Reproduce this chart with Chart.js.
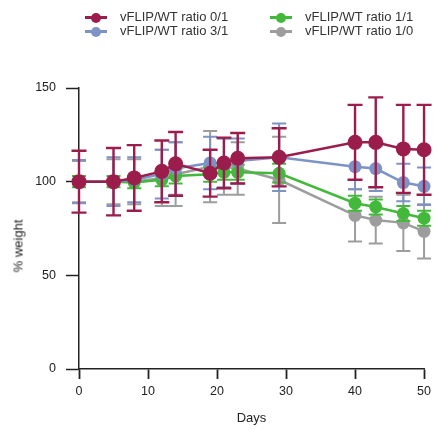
<!DOCTYPE html>
<html>
<head>
<meta charset="utf-8">
<script src="https://cdn.jsdelivr.net/npm/chart.js"></script>
<style>
    html, body { margin: 0; padding: 0; background: #fff; }
    #wrap { position: relative; width: 436px; height: 430px; }
    #weightChart { position: absolute; left: 0; top: 0; }
    .legend-item {
        position: absolute;
        font-family: "Liberation Sans", Arial, sans-serif;
        font-size: 13px;
        color: #333;
        line-height: 14px;
        white-space: nowrap;
    }
    .legend-item .mark {
        display: inline-block;
        position: relative;
        width: 22px;
        height: 14px;
        vertical-align: top;
        margin-right: 13px;
    }
    .legend-item .mark .bar {
        position: absolute; left: 0; top: 6px; width: 22px; height: 2.5px;
    }
    .legend-item .mark .dot {
        position: absolute; left: 6px; top: 2.5px; width: 10px; height: 10px; border-radius: 50%;
    }
    #yTitle {
        position: absolute;
        left: 18px;
        top: 246px;
        transform: translate(-50%, -50%) rotate(-90deg);
        font-family: "Liberation Sans", Arial, sans-serif;
        font-size: 13px;
        color: #222;
        white-space: nowrap;
    }
</style>
</head>
<body>
<div id="wrap">
    <canvas id="weightChart" width="436" height="430"></canvas>
    <div id="yTitle">% weight</div>
</div>
<script>
// Data
const days = [0, 5, 8, 12, 14, 19, 21, 23, 29, 40, 43, 47, 50];

const ratio01 = [100, 100, 102, 105.5, 109.5, 104.5, 110, 112.5, 113, 121, 121, 117.5, 117];
const ratio01Err = [16.5, 18, 17.5, 16.5, 17, 12.5, 13.5, 13.5, 15.5, 20, 24, 23.5, 24];

const ratio31 = [100, 100, 101, 104, 107, 110, 110, 111, 113, 108, 107, 99.5, 97.5];
const ratio31Err = [11.5, 13, 12, 13, 14, 14, 13, 12, 18, 12, 12, 10, 10];

const ratio11 = [100, 100, 99.5, 101, 103, 104, 105, 105, 104.5, 88.5, 86.5, 83, 80.5];
const ratio11Err = [3, 3, 3, 3.5, 4, 4, 4, 4, 5, 4, 4, 4, 4];

const ratio10 = [100, 100, 100, 102, 104, 108, 108, 107, 101, 82, 79.5, 78, 73.5];
const ratio10Err = [11, 12, 12, 15, 17, 19, 15, 14, 23, 14, 12.5, 15, 14.5];

const seriesLabels = ['vFLIP/WT ratio 0/1', 'vFLIP/WT ratio 3/1', 'vFLIP/WT ratio 1/1', 'vFLIP/WT ratio 1/0'];
const seriesColors = ['#9b1d4c', '#7d93c6', '#43b93c', '#9d9d9d'];
const seriesValues = [ratio01, ratio31, ratio11, ratio10];
const seriesErrors = [ratio01Err, ratio31Err, ratio11Err, ratio10Err];
const pointSizes = [7.5, 6.5, 6.5, 6.5];

const yTicks = [0, 50, 100, 150];
const xTicks = [0, 10, 20, 30, 40, 50];

// Legend laid out in two columns like the original
function buildLegend() {
    const wrap = document.getElementById('wrap');
    const spots = [[85, 10], [85, 24], [270, 10], [270, 24]];
    seriesLabels.forEach(function(label, i) {
        const item = document.createElement('div');
        item.className = 'legend-item';
        item.style.left = spots[i][0] + 'px';
        item.style.top = spots[i][1] + 'px';
        item.innerHTML = '<span class="mark"><span class="bar"></span><span class="dot"></span></span>';
        item.querySelector('.bar').style.background = seriesColors[i];
        item.querySelector('.dot').style.background = seriesColors[i];
        item.appendChild(document.createTextNode(label));
        wrap.appendChild(item);
    });
}

// Vertical error bars with caps, drawn with each dataset
const errorBarPlugin = {
    id: 'errorBars',
    afterDatasetDraw(chart, args) {
        const errs = seriesErrors[args.index];
        const vals = seriesValues[args.index];
        const yScale = chart.scales.y;
        const ctx = chart.ctx;
        const cap = args.index === 0 ? 7.5 : 7;
        ctx.save();
        ctx.strokeStyle = seriesColors[args.index];
        ctx.lineWidth = args.index === 0 ? 2.4 : 2;
        args.meta.data.forEach(function(pt, i) {
            const top = yScale.getPixelForValue(vals[i] + errs[i]);
            const bot = yScale.getPixelForValue(vals[i] - errs[i]);
            ctx.beginPath();
            ctx.moveTo(pt.x, top);
            ctx.lineTo(pt.x, bot);
            ctx.moveTo(pt.x - cap, top);
            ctx.lineTo(pt.x + cap, top);
            ctx.moveTo(pt.x - cap, bot);
            ctx.lineTo(pt.x + cap, bot);
            ctx.stroke();
        });
        ctx.restore();
    }
};

function initializeWeightChart() {
    const ctx = document.getElementById('weightChart');
    const font = { family: '"Liberation Sans", Arial, sans-serif', size: 12.5 };

    new Chart(ctx, {
        type: 'line',
        data: {
            datasets: seriesLabels.map(function(label, i) {
                return {
                    label: label,
                    data: days.map(function(d, j) { return { x: d, y: seriesValues[i][j] }; }),
                    borderColor: seriesColors[i],
                    backgroundColor: seriesColors[i],
                    borderWidth: 2.5,
                    pointRadius: pointSizes[i],
                    pointBorderWidth: 0,
                    pointBackgroundColor: seriesColors[i],
                    tension: 0,
                    fill: false,
                    clip: false
                };
            })
        },
        options: {
            responsive: false,
            animation: false,
            layout: { padding: { top: 88, right: 9, left: 0, bottom: 0 } },
            plugins: {
                legend: { display: false },
                tooltip: { enabled: false }
            },
            scales: {
                x: {
                    type: 'linear',
                    min: 0,
                    max: 50,
                    afterBuildTicks: function(scale) {
                        scale.ticks = xTicks.map(function(v) { return { value: v }; });
                    },
                    afterFit: function(scale) { scale.height = 61; },
                    ticks: { color: '#222', font: font, padding: 5 },
                    grid: {
                        drawOnChartArea: false,
                        tickLength: 10,
                        tickColor: '#222',
                        tickWidth: 1.8
                    },
                    border: { color: '#222', width: 1.5 },
                    title: {
                        display: true,
                        text: 'Days',
                        color: '#222',
                        font: { family: font.family, size: 13 },
                        padding: { top: 0, bottom: 4 }
                    }
                },
                y: {
                    min: 0,
                    max: 150,
                    afterBuildTicks: function(scale) {
                        scale.ticks = yTicks.map(function(v) { return { value: v }; });
                    },
                    afterFit: function(scale) { scale.width = 79; },
                    ticks: { color: '#222', font: font, padding: 10 },
                    grid: {
                        drawOnChartArea: false,
                        tickLength: 13,
                        tickColor: '#222',
                        tickWidth: 1.5
                    },
                    border: { color: '#222', width: 1.5 }
                }
            }
        },
        plugins: [errorBarPlugin]
    });
}

buildLegend();
initializeWeightChart();
</script>
</body>
</html>
